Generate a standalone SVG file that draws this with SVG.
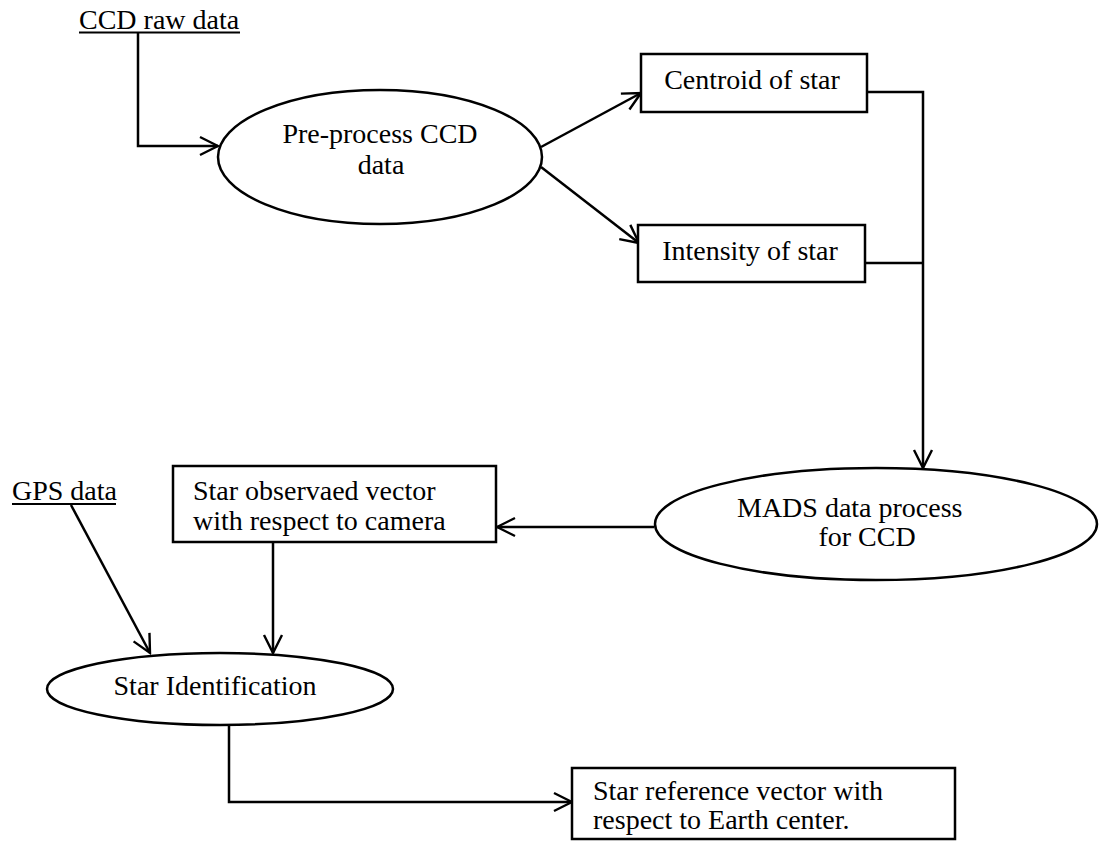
<svg xmlns="http://www.w3.org/2000/svg" width="1099" height="842" viewBox="0 0 1099 842">
<style>
text{font-family:"Liberation Serif","Times New Roman",serif;font-size:28px;fill:#000}
.c{text-anchor:middle}
.n{fill:#fff;stroke:#000;stroke-width:2.5}
.l{fill:none;stroke:#000;stroke-width:2.5}
.u{stroke:#000;stroke-width:2}
</style>
<defs>
<marker id="a" viewBox="0 0 22 22" refX="20" refY="11" markerWidth="22" markerHeight="22" markerUnits="userSpaceOnUse" orient="auto">
<path d="M2,2 L20,11 L2,20" fill="none" stroke="#000" stroke-width="2.4"/>
</marker>
</defs>
<rect width="1099" height="842" fill="#fff"/>
<g id="connectors">
<path class="l" d="M138,33 V146 H218" marker-end="url(#a)"/>
<path class="l" d="M541,147 L641,93" marker-end="url(#a)"/>
<path class="l" d="M541,167 L639,243" marker-end="url(#a)"/>
<path class="l" d="M867,92 H923 V468" marker-end="url(#a)"/>
<path class="l" d="M865,263 H923"/>
<path class="l" d="M654,527 H497" marker-end="url(#a)"/>
<path class="l" d="M71,505 L150,653" marker-end="url(#a)"/>
<path class="l" d="M273,542 V653" marker-end="url(#a)"/>
<path class="l" d="M229,725 V802 H572" marker-end="url(#a)"/>
</g>
<g id="ccd-raw">
<text x="79" y="29">CCD raw data</text>
<line class="u" x1="79" y1="32.5" x2="240" y2="32.5"/>
</g>
<g id="preprocess">
<ellipse class="n" cx="380" cy="157" rx="162" ry="67"/>
<text class="c" x="380" y="143">Pre-process CCD</text>
<text class="c" x="381" y="174">data</text>
</g>
<g id="centroid">
<rect class="n" x="641" y="54" width="226" height="58"/>
<text class="c" x="752" y="89">Centroid of star</text>
</g>
<g id="intensity">
<rect class="n" x="638" y="225" width="227" height="57"/>
<text class="c" x="750" y="260">Intensity of star</text>
</g>
<g id="mads">
<ellipse class="n" cx="876" cy="524" rx="221" ry="56"/>
<text x="737" y="517">MADS  data process</text>
<text class="c" x="867" y="546">for CCD</text>
</g>
<g id="observed">
<rect class="n" x="173" y="466" width="323" height="76"/>
<text x="193" y="500">Star observaed vector</text>
<text x="193" y="530">with respect to camera</text>
</g>
<g id="gps">
<text x="12" y="500">GPS data</text>
<line class="u" x1="12" y1="504" x2="116" y2="504"/>
</g>
<g id="star-id">
<ellipse class="n" cx="220" cy="689" rx="173" ry="36"/>
<text class="c" x="215" y="695">Star Identification</text>
</g>
<g id="reference">
<rect class="n" x="572" y="768" width="383" height="71"/>
<text x="593" y="800">Star reference vector with</text>
<text x="593" y="829">respect to Earth center.</text>
</g>
</svg>
